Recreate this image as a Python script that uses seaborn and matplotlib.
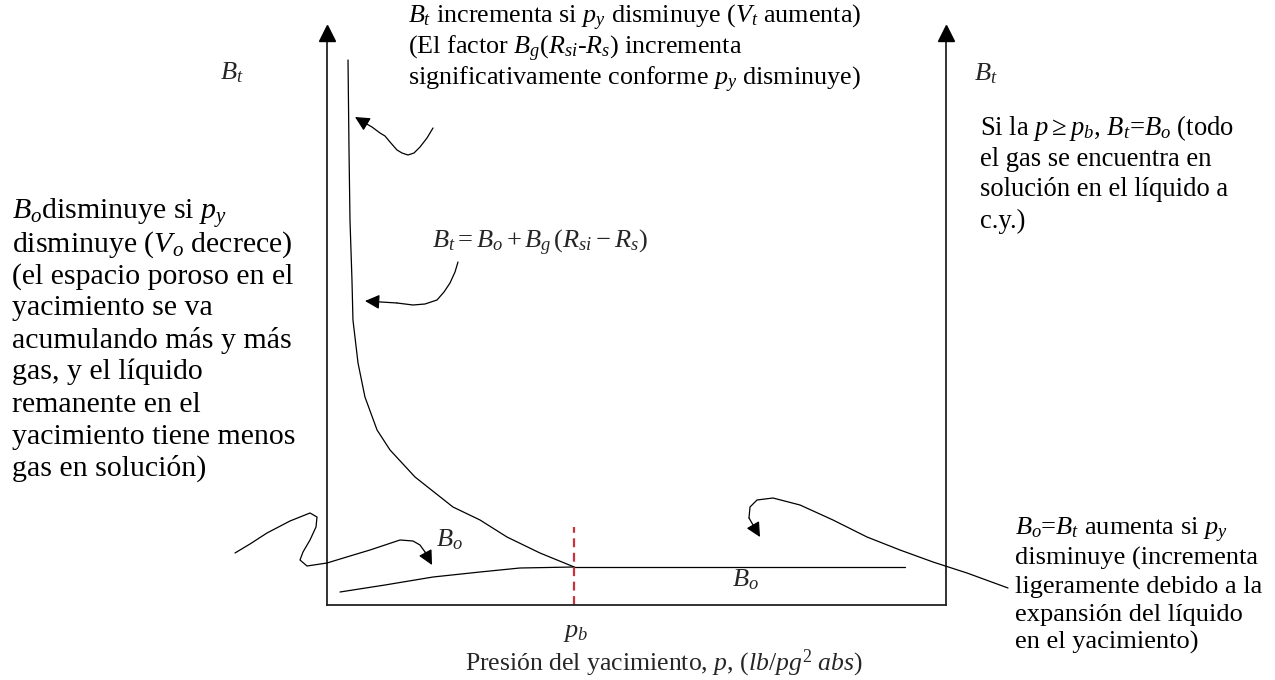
import numpy as np
import pandas as pd
import matplotlib
matplotlib.use("Agg")
import matplotlib.pyplot as plt
import seaborn as sns

# ---- curve data (pressure in lb/pg2 abs, formation volume factor) ----
p_bubble = 2000
bt_pressure = [170, 178, 186, 202, 210, 251, 307, 405, 510, 712, 1019, 1238, 1456, 1723, 2000]
bt_values = [3.725, 3.275, 2.925, 2.625, 2.425, 2.21, 2.04, 1.875, 1.775, 1.64, 1.49, 1.425, 1.34, 1.26, 1.19]
bo_low_pressure = [105, 469, 858, 1238, 1561, 2000]
bo_low_values = [1.065, 1.10, 1.14, 1.165, 1.185, 1.19]
bo_high_pressure = [2000, 4680]
bo_high_values = [1.19, 1.19]
pb_marker_top = 1.39

curves = pd.concat([
    pd.DataFrame({"p": bt_pressure, "B": bt_values, "curva": "Bt"}),
    pd.DataFrame({"p": bo_low_pressure, "B": bo_low_values, "curva": "Bo_bajo"}),
    pd.DataFrame({"p": bo_high_pressure, "B": bo_high_values, "curva": "Bo_alto"}),
], ignore_index=True)

# ---- text blocks ----
top_lines = [r"$B_t$ incrementa si $p_y$ disminuye ($V_t$ aumenta)",
             r"(El factor $B_g(R_{si}$-$R_s)$ incrementa",
             r"significativamente conforme $p_y$ disminuye)"]
right_lines = [r"Si la $p{\geq}p_b$, $B_t$=$B_o$ (todo",
               "el gas se encuentra en",
               "solución en el líquido a",
               "c.y.)"]
left_lines = [r"$B_o$disminuye si $p_y$",
              r"disminuye ($V_o$ decrece)",
              "(el espacio poroso en el",
              "yacimiento se va",
              "acumulando más y más",
              "gas, y el líquido",
              "remanente en el",
              "yacimiento tiene menos",
              "gas en solución)"]
lower_right_lines = [r"$B_o$=$B_t$ aumenta si $p_y$",
                     "disminuye (incrementa",
                     "ligeramente debido a la",
                     "expansión del líquido",
                     "en el yacimiento)"]
equation = r"$B_t = B_o + B_g\,(R_{si} - R_s)$"
x_label = r"Presión del yacimiento, $p$, $(lb/pg^2\ abs)$"

# ---- pointer paths (figure pixels, origin top-left) ----
pointer_top = [(433, 128), (427, 138), (420, 147), (414, 153), (408, 155), (402, 153),
               (397, 150), (390, 142), (385, 136), (380, 133), (372, 127), (365, 123), (355, 117)]
pointer_eq = [(458, 262), (455, 272), (450, 283), (444, 292), (437, 300), (425, 304),
              (413, 305), (397, 303), (365, 301)]
pointer_bo = [(235, 553), (250, 544), (267, 533), (290, 521), (310, 513), (317, 517),
              (316, 527), (310, 540), (303, 552), (300, 560), (307, 566), (327, 563),
              (350, 556), (370, 550), (400, 540), (413, 541), (420, 545), (425, 552), (432, 565)]
pointer_right = [(1008, 588), (967, 573), (933, 562), (900, 550), (867, 537), (833, 520),
                 (800, 505), (773, 498), (757, 500), (750, 507), (749, 518), (760, 537)]

sns.set_style("white")
plt.rcParams["font.family"] = ["Liberation Serif", "DejaVu Serif"]
plt.rcParams["mathtext.fontset"] = "custom"
plt.rcParams["mathtext.rm"] = "Liberation Serif"
plt.rcParams["mathtext.it"] = "Liberation Serif:italic"
plt.rcParams["mathtext.bf"] = "Liberation Serif:bold"

W, H = 1275, 680
fig = plt.figure(figsize=(W / 100, H / 100), dpi=100)
fig.patch.set_facecolor("white")

# main plot area
L, R, B, T = 327, 946, 605, 40
ax = fig.add_axes([L / W, (H - B) / H, (R - L) / W, (B - T) / H])
sns.lineplot(data=curves, x="p", y="B", units="curva", estimator=None,
             color="black", linewidth=0.9, sort=False, ax=ax, legend=False)
ax.plot([p_bubble, p_bubble], [1.0, pb_marker_top], color="#c8323c",
        linestyle=(0, (4, 2.5)), linewidth=1.6, clip_on=False)
ax.set_xlim(0, 5000 * (R - L) / 618)
ax.set_ylim(1.0, 1.0 + (B - T) / 200)
ax.set_xticks([])
ax.set_yticks([])
ax.set_xlabel("")
ax.set_ylabel("")
ax.spines["top"].set_visible(False)
for side in ("left", "right", "bottom"):
    ax.spines[side].set_color("#222222")
    ax.spines[side].set_linewidth(1.3)
ax.patch.set_alpha(0)

# overlay in pixel coordinates for labels and pointers
ov = fig.add_axes([0, 0, 1, 1])
ov.set_xlim(0, W)
ov.set_ylim(H, 0)
ov.axis("off")
ov.patch.set_alpha(0)

# axis arrowheads
for xa in (L, R):
    ov.plot([xa], [32.5], marker="^", markersize=11, color="black", clip_on=False)


def block(lines, x, ys, size):
    for line, y in zip(lines, ys):
        ov.text(x, y, line, fontsize=size, ha="left", va="center", color="black")


block(top_lines, 408, [18, 49, 80], 18.8)
block(right_lines, 980, [128, 160, 190, 221], 19.2)
block(left_lines, 12, [213, 245, 277, 308, 340, 372, 405, 437, 468], 21.5)
block(lower_right_lines, 1015, [530, 558, 587, 615, 642], 19)

ov.text(432, 243, equation, fontsize=19, ha="left", va="center")
ov.text(232, 73, r"$B_t$", fontsize=19, ha="center", va="center")
ov.text(986, 74, r"$B_t$", fontsize=19, ha="center", va="center")
ov.text(449, 540, r"$B_o$", fontsize=19, ha="center", va="center")
ov.text(745, 580, r"$B_o$", fontsize=19, ha="center", va="center")
ov.text(576, 633, r"$p_b$", fontsize=19, ha="center", va="center")
ov.text(465, 663, x_label, fontsize=18.5, ha="left", va="center")


def pointer(path):
    xs, ys = zip(*path)
    ov.plot(xs[:-1], ys[:-1], color="black", linewidth=0.9)
    ov.annotate("", xy=path[-1], xytext=path[-2],
                arrowprops=dict(arrowstyle="-|>", color="black", lw=0.9,
                                mutation_scale=22, shrinkA=0, shrinkB=0))


for path in (pointer_top, pointer_eq, pointer_bo, pointer_right):
    pointer(path)

fig.savefig("out.png", dpi=100, facecolor="white")
